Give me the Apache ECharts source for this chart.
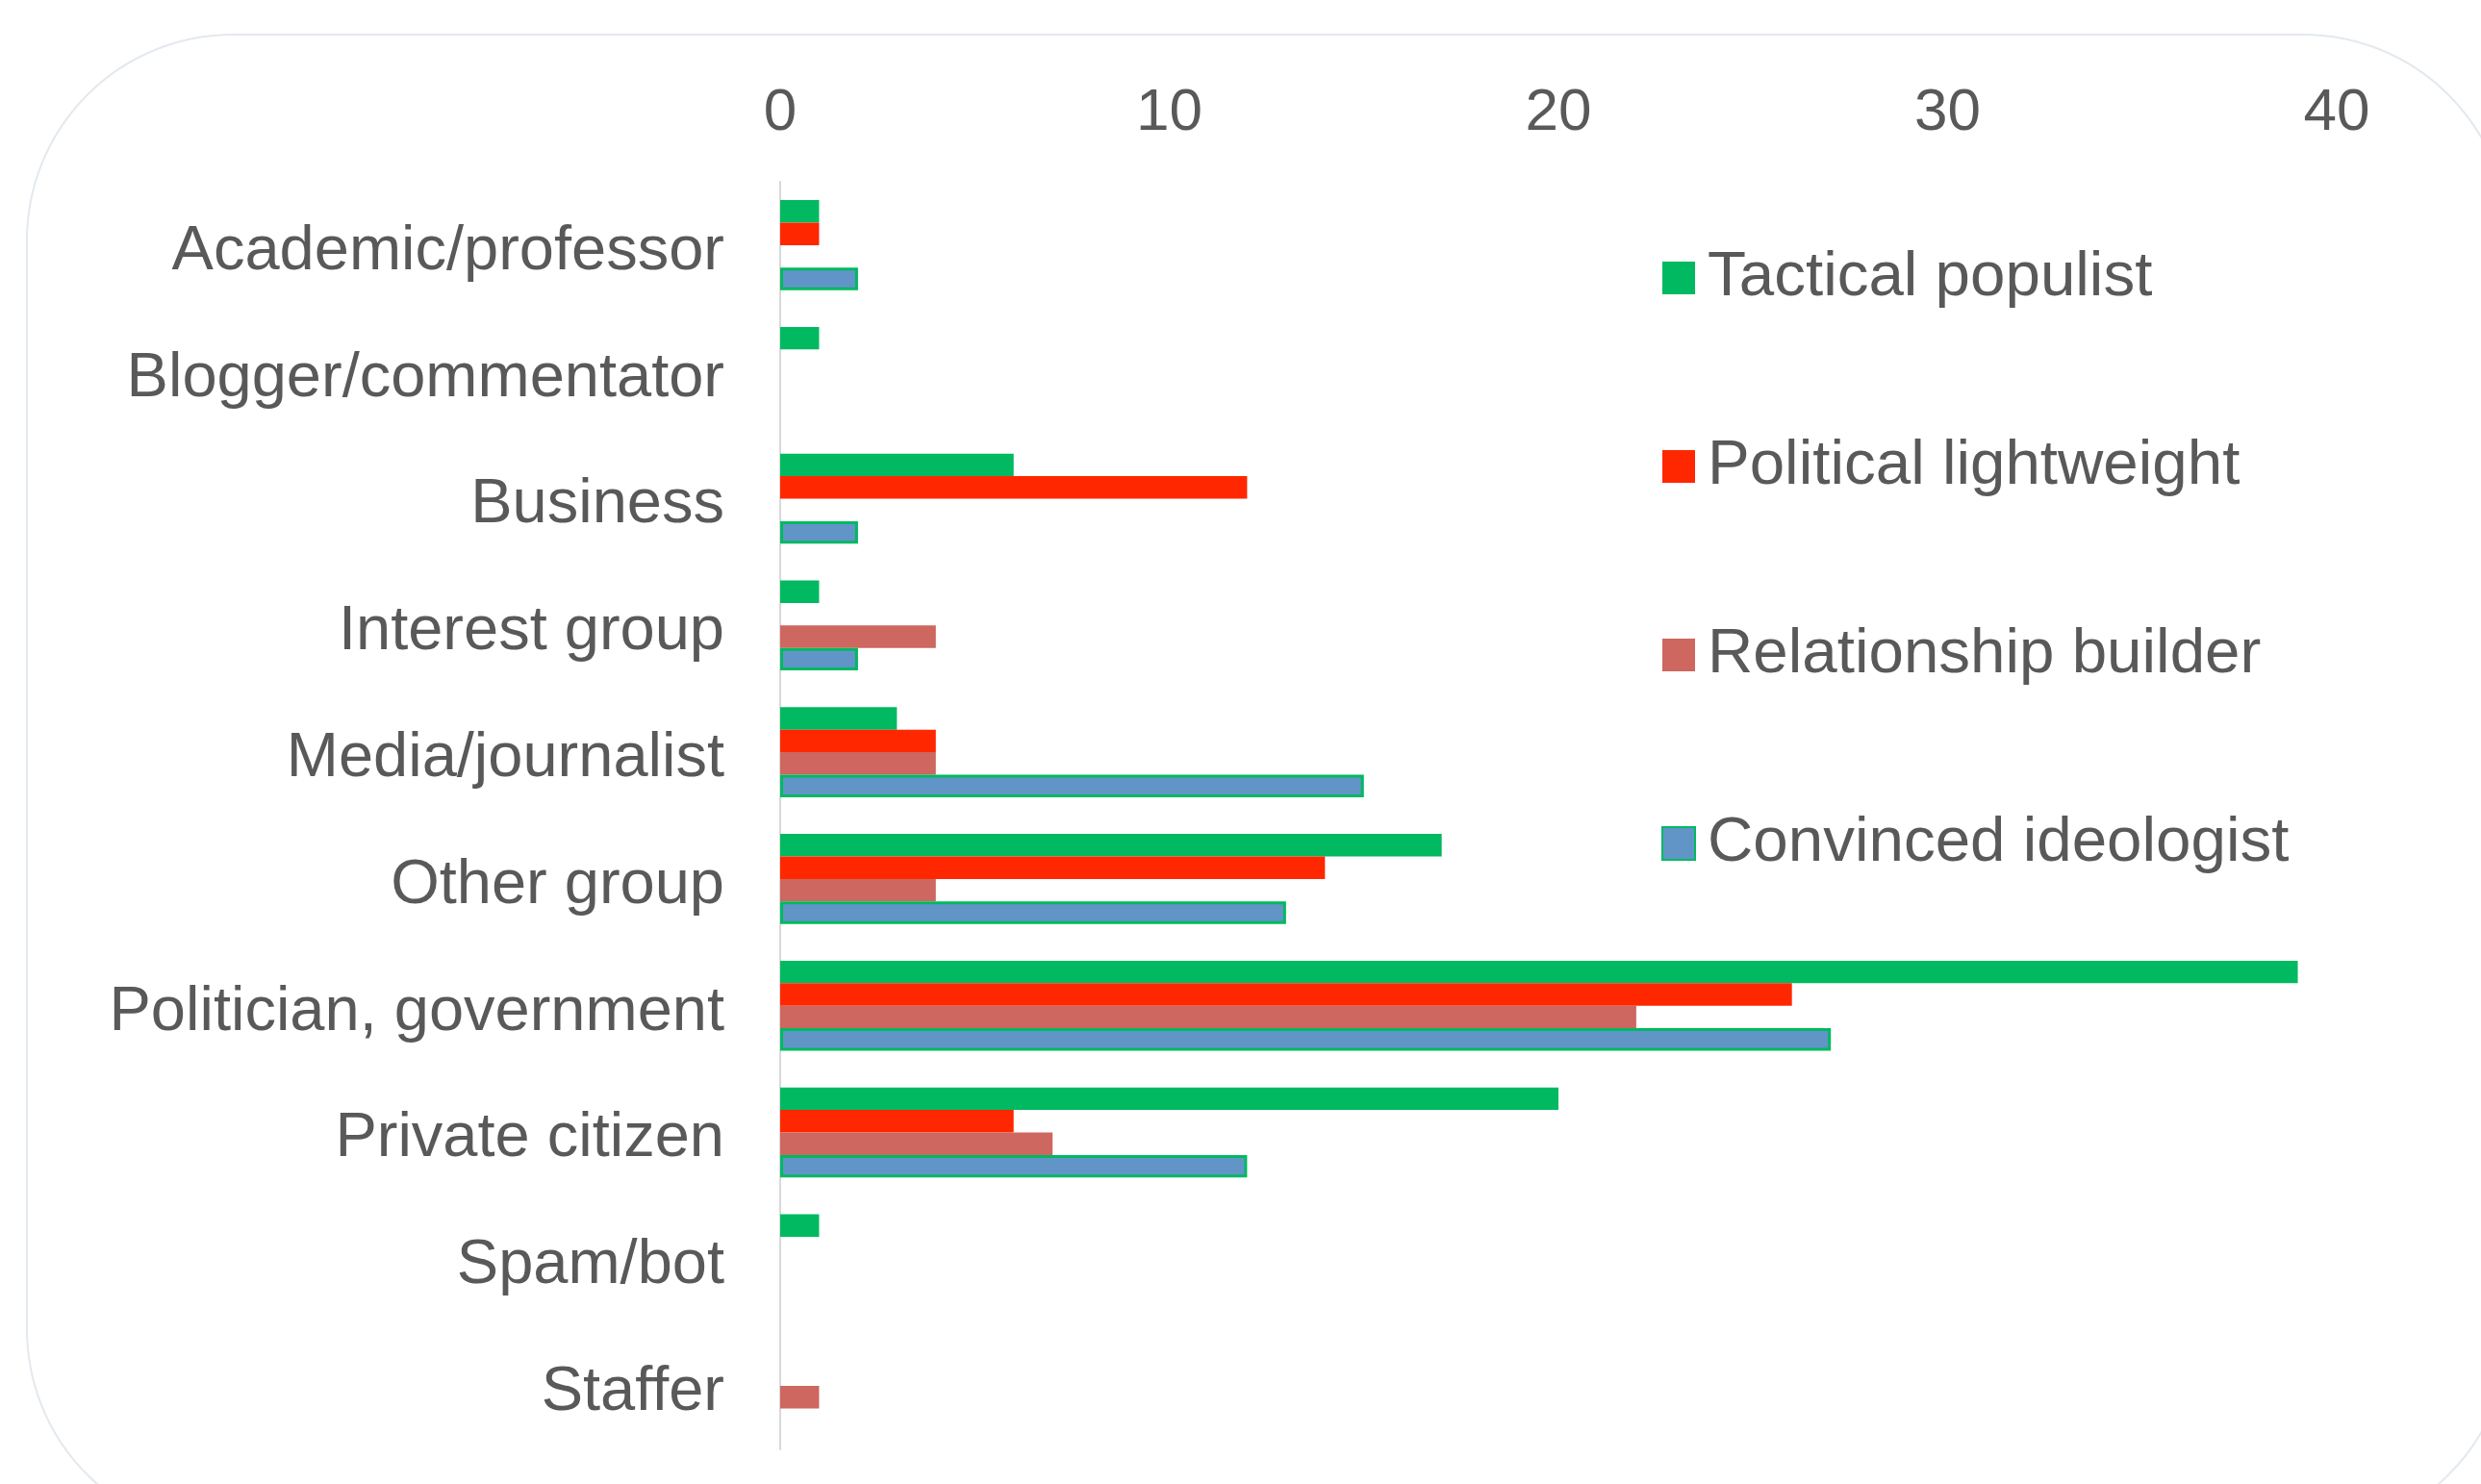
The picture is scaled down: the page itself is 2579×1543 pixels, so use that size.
<!DOCTYPE html>
<html>
<head>
<meta charset="utf-8">
<style>html,body{margin:0;padding:0;background:#fff;}#c{width:2579px;height:1543px;}</style>
<script src="https://cdn.jsdelivr.net/npm/echarts@6/dist/echarts.min.js"></script>
</head>
<body>
<div id="c"></div>
<script>
const categories = ["Academic/professor","Blogger/commentator","Business","Interest group","Media/journalist","Other group","Politician, government","Private citizen","Spam/bot","Staffer"];
const seriesNames = ["Tactical populist","Political lightweight","Relationship builder","Convinced ideologist"];
const tacticalPopulist     = [1,1,6,1,3,17,39,20,1,0];
const politicalLightweight = [1,0,12,0,4,14,26,6,0,0];
const relationshipBuilder  = [0,0,0,4,4,4,22,7,0,1];
const convincedIdeologist  = [2,0,2,2,15,13,27,12,0,0];
const xTicks = [0,10,20,30,40];

const colors = ["#00B960","#FF2700","#CD675F","#6195C7"];
const allValues = [tacticalPopulist, politicalLightweight, relationshipBuilder, convincedIdeologist];
const FONT = "'Liberation Sans', Arial, Helvetica, sans-serif";
const TXT = "#595959";

const chart = echarts.init(document.getElementById('c'), null, {renderer:'canvas'});
const series = seriesNames.map((n,i)=>({
  name:n, type:'bar',
  data: allValues[i].map(v => v === 0 ? '-' : v),
  barGap:'0%', barCategoryGap:'29%',
  itemStyle: i===3 ? {color:colors[i], borderColor:'#00B960', borderWidth:3} : {color:colors[i]},
  emphasis:{disabled:true}
}));
chart.setOption({
  animation:false,
  backgroundColor:'#ffffff',
  graphic:[{type:'rect', silent:true, z:-10,
    shape:{x:28, y:36, width:2580, height:1560, r:214},
    style:{fill:'none', stroke:'#E3E9EE', lineWidth:2}}],
  grid:{left:811, right:150, top:189, bottom:36, containLabel:false},
  legend:{
    orient:'vertical', left:1722, top:251,
    itemWidth:34, itemHeight:34, itemGap:130,
    icon:'rect',
    textStyle:{fontFamily:FONT, fontSize:65.5, color:TXT, lineHeight:65, padding:[0,0,0,8]},
    data: seriesNames
  },
  xAxis:{
    type:'value', position:'top', min:xTicks[0], max:xTicks[xTicks.length-1], interval:10,
    axisLine:{show:false}, axisTick:{show:false}, splitLine:{show:false},
    axisLabel:{fontFamily:FONT, fontSize:62, color:TXT, margin:40}
  },
  yAxis:{
    type:'category', inverse:true, data:categories,
    axisLine:{show:true, lineStyle:{color:'#D9D9D9', width:2}},
    axisTick:{show:false},
    axisLabel:{fontFamily:FONT, fontSize:65, color:TXT, margin:58, verticalAlign:'top', lineHeight:14}
  },
  series: series
});
</script>
</body>
</html>
